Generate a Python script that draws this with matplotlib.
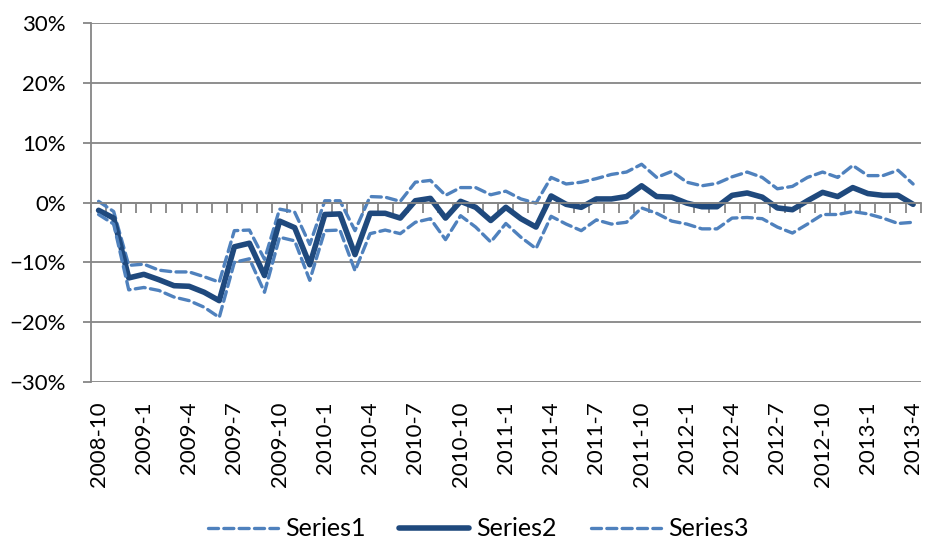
import numpy as np
import matplotlib
matplotlib.use('Agg')
import matplotlib.pyplot as plt
from matplotlib.ticker import PercentFormatter

plt.rcParams['font.family'] = ['Lato', 'DejaVu Sans']

# monthly values, 2008-10 .. 2013-4 (percent)
series1 = [0.2, -1.5, -10.5, -10.3, -11.3, -11.6, -11.6, -12.4, -13.3, -4.7,
           -4.6, -9.5, -1.1, -1.6, -7.0, 0.3, 0.3, -4.7, 1.0, 0.9,
           0.2, 3.4, 3.7, 1.2, 2.5, 2.5, 1.3, 1.9, 0.6, -0.1,
           4.2, 3.1, 3.4, 4.0, 4.7, 5.1, 6.4, 4.2, 5.2, 3.4,
           2.8, 3.2, 4.3, 5.1, 4.2, 2.3, 2.7, 4.2, 5.1, 4.2,
           6.2, 4.5, 4.5, 5.4, 3.1]
series2 = [-1.3, -2.6, -12.6, -12.0, -12.9, -13.9, -14.0, -15.0, -16.4, -7.4,
           -6.8, -12.2, -3.1, -4.2, -10.4, -2.0, -1.9, -8.7, -1.8, -1.8,
           -2.6, 0.3, 0.7, -2.6, 0.2, -0.8, -3.0, -0.8, -2.7, -4.1,
           1.1, -0.3, -0.8, 0.6, 0.6, 1.0, 2.8, 1.0, 0.9, -0.1,
           -0.7, -0.7, 1.2, 1.6, 0.9, -0.9, -1.2, 0.3, 1.7, 1.0,
           2.5, 1.5, 1.2, 1.2, -0.3]
series3 = [-2.0, -3.6, -14.6, -14.2, -14.7, -15.8, -16.4, -17.5, -19.2, -10.0,
           -9.4, -15.0, -5.8, -6.4, -13.0, -4.7, -4.6, -11.4, -5.2, -4.6,
           -5.2, -3.3, -2.7, -6.2, -2.2, -4.1, -6.6, -3.5, -5.8, -7.7,
           -2.3, -3.6, -4.7, -2.9, -3.6, -3.3, -0.9, -1.8, -3.1, -3.6,
           -4.4, -4.4, -2.6, -2.5, -2.7, -4.1, -5.1, -3.6, -2.0, -2.0,
           -1.5, -1.9, -2.6, -3.5, -3.3]
tick_labels = ['2008-10', '2009-1', '2009-4', '2009-7', '2009-10', '2010-1',
               '2010-4', '2010-7', '2010-10', '2011-1', '2011-4', '2011-7',
               '2011-10', '2012-1', '2012-4', '2012-7', '2012-10', '2013-1',
               '2013-4']

x = np.arange(len(series2))
light = '#4F81BD'
dark = '#1F497D'
grid = '#868686'

fig = plt.figure(figsize=(9.29, 5.43), dpi=100)
ax = fig.add_axes([0.098, 0.2965, 0.893, 0.661])

ax.plot(x, series1, color=light, lw=2.4, dashes=(3.0, 1.6), label='Series1',
        dash_capstyle='round')
ax.plot(x, series2, color=dark, lw=4.0, label='Series2', solid_capstyle='round')
ax.plot(x, series3, color=light, lw=2.4, dashes=(3.0, 1.6), label='Series3',
        dash_capstyle='round')

ax.set_ylim(-30, 30)
ax.set_xlim(-0.5, len(x) - 0.5)
ax.set_yticks(np.arange(-30, 31, 10))
ax.yaxis.set_major_formatter(PercentFormatter(decimals=0))
ax.grid(axis='y', color=grid, lw=1.3)
ax.set_axisbelow(True)

for s in ['top', 'right']:
    ax.spines[s].set_visible(False)
ax.spines['left'].set_color(grid)
ax.spines['left'].set_linewidth(1.3)
ax.tick_params(axis='y', length=6, width=1.3, color=grid, labelsize=16, pad=12)

# category axis crosses at 0, tick marks between categories
ax.spines['bottom'].set_position(('data', 0))
ax.spines['bottom'].set_color(grid)
ax.spines['bottom'].set_linewidth(1.3)
ax.set_xticks(np.arange(len(x) + 1) - 0.5)
ax.tick_params(axis='x', length=7, width=1.3, color=grid, labelbottom=False)

# category labels along the bottom
sec = ax.secondary_xaxis('bottom')
sec.set_xticks(x[::3])
sec.set_xticklabels(tick_labels, rotation=90)
sec.spines['bottom'].set_visible(False)
sec.tick_params(axis='x', length=0, labelsize=16, pad=14)

fig.legend(loc='center', bbox_to_anchor=(0.5145, 0.026), ncol=3, frameon=False,
           fontsize=18, handlelength=2.8, columnspacing=1.36, handletextpad=0.28)

fig.savefig('out.png', dpi=100)
